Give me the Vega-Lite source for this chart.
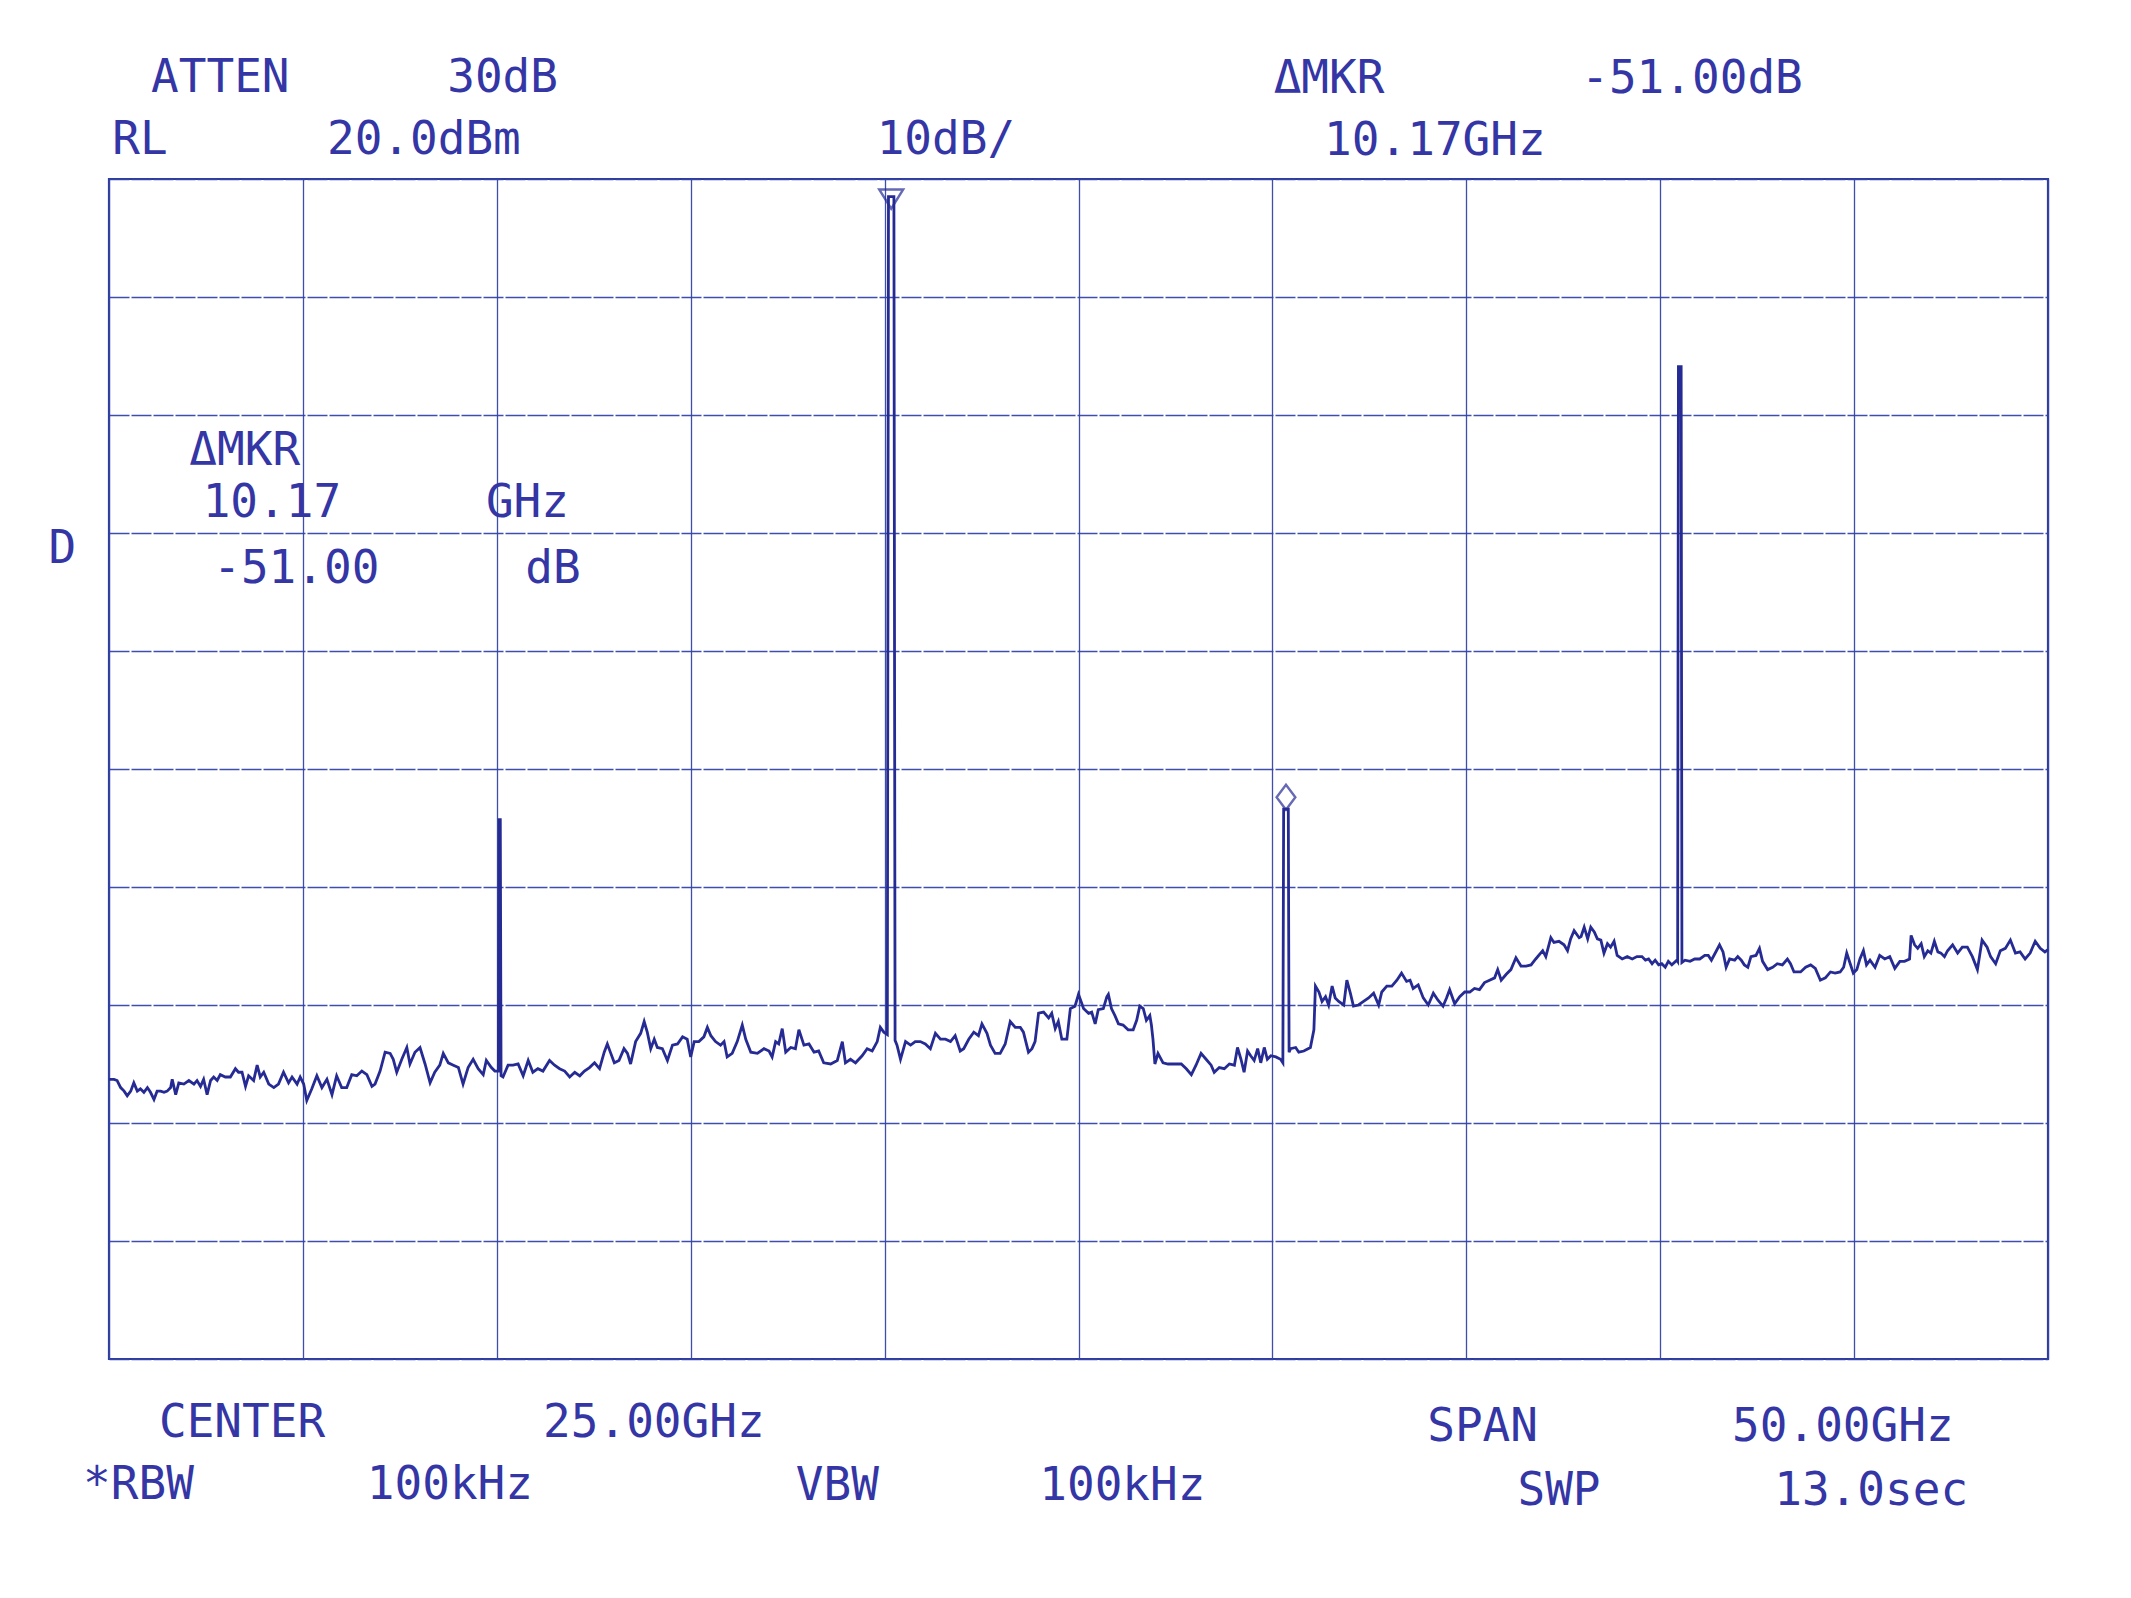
{
  "$schema": "https://vega.github.io/schema/vega-lite/v6.json",
  "width": 1939,
  "height": 1180,
  "autosize": {"type": "none"},
  "padding": {"left": 109, "top": 179, "right": 83, "bottom": 239},
  "background": "white",
  "config": {
    "view": {"stroke": "#2f3c9c", "strokeWidth": 2.2},
    "axis": {"labels": false, "ticks": false, "domain": false, "title": null, "grid": true, "gridColor": "#3444a6", "gridWidth": 1.3, "gridOpacity": 0.95},
    "axisY": {"gridDash": [20, 2]}
  },
  "datasets": {
    "trace": [
      {"f":0,"p":-56.3},{"f":0.13,"p":-56.3},{"f":0.21,"p":-56.4},{"f":0.30,"p":-57.0},{"f":0.39,"p":-57.3},{"f":0.47,"p":-57.7},{"f":0.56,"p":-57.3},{"f":0.64,"p":-56.6},{"f":0.73,"p":-57.3},{"f":0.81,"p":-57.1},{"f":0.90,"p":-57.4},{"f":0.99,"p":-57.0},{"f":1.07,"p":-57.4},{"f":1.16,"p":-58.0},{"f":1.24,"p":-57.3},{"f":1.33,"p":-57.3},{"f":1.42,"p":-57.4},{"f":1.50,"p":-57.3},{"f":1.59,"p":-57.0},{"f":1.63,"p":-56.3},{"f":1.72,"p":-57.6},{"f":1.80,"p":-56.6},{"f":1.93,"p":-56.7},{"f":2.06,"p":-56.4},{"f":2.19,"p":-56.7},{"f":2.27,"p":-56.4},{"f":2.36,"p":-56.9},{"f":2.44,"p":-56.3},{"f":2.53,"p":-57.6},{"f":2.62,"p":-56.4},{"f":2.70,"p":-56.1},{"f":2.79,"p":-56.4},{"f":2.87,"p":-55.9},{"f":3.00,"p":-56.1},{"f":3.13,"p":-56.1},{"f":3.26,"p":-55.4},{"f":3.34,"p":-55.7},{"f":3.43,"p":-55.7},{"f":3.52,"p":-56.9},{"f":3.60,"p":-56.0},{"f":3.73,"p":-56.4},{"f":3.82,"p":-55.1},{"f":3.90,"p":-56.1},{"f":3.99,"p":-55.7},{"f":4.12,"p":-56.7},{"f":4.25,"p":-57.0},{"f":4.37,"p":-56.7},{"f":4.50,"p":-55.7},{"f":4.63,"p":-56.6},{"f":4.72,"p":-56.1},{"f":4.85,"p":-56.7},{"f":4.93,"p":-56.1},{"f":5.02,"p":-56.7},{"f":5.10,"p":-58.1},{"f":5.23,"p":-57.1},{"f":5.36,"p":-56.0},{"f":5.49,"p":-57.0},{"f":5.62,"p":-56.3},{"f":5.75,"p":-57.6},{"f":5.87,"p":-56.0},{"f":6.00,"p":-57.0},{"f":6.13,"p":-57.0},{"f":6.26,"p":-55.9},{"f":6.39,"p":-56.0},{"f":6.52,"p":-55.6},{"f":6.65,"p":-55.9},{"f":6.78,"p":-56.9},{"f":6.86,"p":-56.7},{"f":6.99,"p":-55.6},{"f":7.12,"p":-54.0},{"f":7.25,"p":-54.1},{"f":7.33,"p":-54.6},{"f":7.42,"p":-55.7},{"f":7.55,"p":-54.6},{"f":7.68,"p":-53.6},{"f":7.76,"p":-55.0},{"f":7.89,"p":-54.0},{"f":8.02,"p":-53.6},{"f":8.15,"p":-55.0},{"f":8.28,"p":-56.6},{"f":8.40,"p":-55.7},{"f":8.53,"p":-55.1},{"f":8.62,"p":-54.1},{"f":8.75,"p":-54.9},{"f":8.88,"p":-55.1},{"f":9.01,"p":-55.3},{"f":9.13,"p":-56.7},{"f":9.26,"p":-55.3},{"f":9.39,"p":-54.6},{"f":9.52,"p":-55.4},{"f":9.65,"p":-55.9},{"f":9.73,"p":-54.7},{"f":9.86,"p":-55.3},{"f":9.95,"p":-55.6},{"f":10.04,"p":-55.6},{"f":10.06,"p":-34.3},{"f":10.09,"p":-34.3},{"f":10.11,"p":-56.0},{"f":10.16,"p":-56.1},{"f":10.29,"p":-55.1},{"f":10.42,"p":-55.1},{"f":10.55,"p":-55.0},{"f":10.68,"p":-56.0},{"f":10.81,"p":-54.7},{"f":10.93,"p":-55.7},{"f":11.06,"p":-55.4},{"f":11.19,"p":-55.6},{"f":11.36,"p":-54.7},{"f":11.49,"p":-55.1},{"f":11.62,"p":-55.4},{"f":11.75,"p":-55.6},{"f":11.88,"p":-56.1},{"f":12.01,"p":-55.7},{"f":12.14,"p":-56.0},{"f":12.26,"p":-55.6},{"f":12.39,"p":-55.3},{"f":12.52,"p":-54.9},{"f":12.65,"p":-55.4},
      {"f":12.77,"p":-54.0},{"f":12.85,"p":-53.3},{"f":12.94,"p":-54.1},{"f":13.03,"p":-54.9},{"f":13.15,"p":-54.7},{"f":13.28,"p":-53.7},{"f":13.37,"p":-54.1},{"f":13.45,"p":-55.0},{"f":13.58,"p":-53.1},{"f":13.71,"p":-52.4},{"f":13.80,"p":-51.4},{"f":13.88,"p":-52.3},{"f":13.97,"p":-53.7},{"f":14.06,"p":-52.9},{"f":14.14,"p":-53.6},{"f":14.27,"p":-53.7},{"f":14.40,"p":-54.7},{"f":14.53,"p":-53.4},{"f":14.66,"p":-53.3},{"f":14.79,"p":-52.7},{"f":14.91,"p":-52.9},{"f":15.00,"p":-54.4},{"f":15.09,"p":-53.1},{"f":15.21,"p":-53.1},{"f":15.34,"p":-52.7},{"f":15.43,"p":-51.9},{"f":15.52,"p":-52.6},{"f":15.64,"p":-53.1},{"f":15.77,"p":-53.4},{"f":15.86,"p":-53.1},{"f":15.94,"p":-54.4},{"f":16.07,"p":-54.1},{"f":16.20,"p":-53.1},{"f":16.33,"p":-51.7},{"f":16.42,"p":-52.9},{"f":16.55,"p":-54.0},{"f":16.72,"p":-54.1},{"f":16.89,"p":-53.7},{"f":17.02,"p":-53.9},{"f":17.10,"p":-54.4},{"f":17.19,"p":-53.1},{"f":17.27,"p":-53.3},{"f":17.36,"p":-52.0},{"f":17.45,"p":-54.0},{"f":17.58,"p":-53.6},{"f":17.70,"p":-53.7},{"f":17.79,"p":-52.1},{"f":17.92,"p":-53.4},{"f":18.05,"p":-53.3},{"f":18.18,"p":-54.0},{"f":18.30,"p":-53.9},{"f":18.43,"p":-54.9},{"f":18.61,"p":-55.0},{"f":18.78,"p":-54.7},{"f":18.91,"p":-53.1},{"f":18.99,"p":-54.9},{"f":19.12,"p":-54.6},{"f":19.25,"p":-54.9},{"f":19.42,"p":-54.3},{"f":19.55,"p":-53.7},{"f":19.68,"p":-53.9},{"f":19.81,"p":-53.1},{"f":19.89,"p":-51.9},{"f":19.98,"p":-52.3},{"f":20.07,"p":-52.5},{"f":20.10,"p":18.5},{"f":20.24,"p":18.5},{"f":20.27,"p":-53.0},{"f":20.32,"p":-53.4},{"f":20.41,"p":-54.6},{"f":20.54,"p":-53.1},{"f":20.67,"p":-53.4},{"f":20.79,"p":-53.1},{"f":20.92,"p":-53.1},{"f":21.05,"p":-53.3},{"f":21.18,"p":-53.7},{"f":21.31,"p":-52.4},{"f":21.44,"p":-52.9},{"f":21.57,"p":-52.9},{"f":21.70,"p":-53.1},{"f":21.82,"p":-52.6},{"f":21.95,"p":-53.9},{"f":22.04,"p":-53.7},{"f":22.17,"p":-52.9},{"f":22.30,"p":-52.3},{"f":22.42,"p":-52.6},{"f":22.51,"p":-51.6},{"f":22.64,"p":-52.4},{"f":22.73,"p":-53.4},{"f":22.85,"p":-54.1},{"f":22.98,"p":-54.1},{"f":23.11,"p":-53.3},{"f":23.24,"p":-51.4},{"f":23.37,"p":-51.9},{"f":23.50,"p":-51.9},{"f":23.58,"p":-52.3},{"f":23.71,"p":-54.0},{"f":23.80,"p":-53.7},{"f":23.88,"p":-53.1},{"f":23.97,"p":-50.7},{"f":24.10,"p":-50.6},{"f":24.23,"p":-51.1},{"f":24.31,"p":-50.7},{"f":24.40,"p":-52.0},{"f":24.48,"p":-51.4},{"f":24.57,"p":-52.9},{"f":24.70,"p":-52.9},{"f":24.79,"p":-50.3},{"f":24.91,"p":-50.1},{"f":25.00,"p":-49.1},{"f":25.13,"p":-50.3},{"f":25.26,"p":-50.7},
      {"f":25.34,"p":-50.6},{"f":25.43,"p":-51.6},{"f":25.51,"p":-50.4},{"f":25.64,"p":-50.3},{"f":25.73,"p":-49.3},{"f":25.77,"p":-49.1},{"f":25.85,"p":-50.3},{"f":25.94,"p":-50.9},{"f":26.03,"p":-51.6},{"f":26.15,"p":-51.7},{"f":26.28,"p":-52.1},{"f":26.41,"p":-52.1},{"f":26.50,"p":-51.3},{"f":26.58,"p":-50.1},{"f":26.67,"p":-50.3},{"f":26.75,"p":-51.3},{"f":26.84,"p":-50.9},{"f":26.88,"p":-51.7},{"f":26.92,"p":-52.9},{"f":26.97,"p":-55.0},{"f":27.05,"p":-54.1},{"f":27.18,"p":-54.9},{"f":27.31,"p":-55.0},{"f":27.48,"p":-55.0},{"f":27.65,"p":-55.0},{"f":27.78,"p":-55.4},{"f":27.91,"p":-55.9},{"f":28.03,"p":-55.1},{"f":28.16,"p":-54.1},{"f":28.29,"p":-54.6},{"f":28.42,"p":-55.1},{"f":28.50,"p":-55.7},{"f":28.63,"p":-55.3},{"f":28.76,"p":-55.4},{"f":28.89,"p":-55.0},{"f":29.02,"p":-55.1},{"f":29.10,"p":-53.6},{"f":29.19,"p":-54.6},{"f":29.27,"p":-55.7},{"f":29.36,"p":-53.9},{"f":29.44,"p":-54.3},{"f":29.53,"p":-54.7},{"f":29.62,"p":-53.7},{"f":29.70,"p":-54.9},{"f":29.79,"p":-53.6},{"f":29.87,"p":-54.6},{"f":29.96,"p":-54.3},{"f":30.09,"p":-54.4},{"f":30.21,"p":-54.6},{"f":30.27,"p":-54.9},{"f":30.29,"p":-33.4},{"f":30.41,"p":-33.4},{"f":30.43,"p":-54.0},{"f":30.47,"p":-53.7},{"f":30.60,"p":-53.6},{"f":30.68,"p":-54.0},{"f":30.81,"p":-53.9},{"f":30.98,"p":-53.6},{"f":31.07,"p":-52.1},{"f":31.11,"p":-48.4},{"f":31.20,"p":-48.9},{"f":31.28,"p":-49.7},{"f":31.37,"p":-49.3},{"f":31.45,"p":-50.0},{"f":31.54,"p":-48.4},{"f":31.62,"p":-49.4},{"f":31.71,"p":-49.7},{"f":31.84,"p":-50.0},{"f":31.92,"p":-47.9},{"f":32.01,"p":-49.0},{"f":32.09,"p":-50.1},{"f":32.22,"p":-50.0},{"f":32.35,"p":-49.7},{"f":32.48,"p":-49.4},{"f":32.61,"p":-49.0},{"f":32.74,"p":-50.0},{"f":32.82,"p":-48.9},{"f":32.95,"p":-48.4},{"f":33.08,"p":-48.4},{"f":33.21,"p":-47.9},{"f":33.33,"p":-47.3},{"f":33.46,"p":-48.0},{"f":33.55,"p":-47.9},{"f":33.63,"p":-48.6},{"f":33.76,"p":-48.3},{"f":33.89,"p":-49.4},{"f":34.02,"p":-50.0},{"f":34.15,"p":-49.0},{"f":34.27,"p":-49.6},{"f":34.40,"p":-50.1},{"f":34.49,"p":-49.4},{"f":34.57,"p":-48.7},{"f":34.70,"p":-49.9},{"f":34.83,"p":-49.3},{"f":34.96,"p":-48.9},{"f":35.09,"p":-48.9},{"f":35.21,"p":-48.6},{"f":35.34,"p":-48.7},{"f":35.47,"p":-48.1},{"f":35.60,"p":-47.9},{"f":35.73,"p":-47.7},{"f":35.81,"p":-47.0},{"f":35.90,"p":-47.9},{"f":36.03,"p":-47.4},{"f":36.15,"p":-47.0},{"f":36.28,"p":-46.0},{"f":36.41,"p":-46.7},{"f":36.54,"p":-46.7},{"f":36.67,"p":-46.6},{"f":36.79,"p":-46.1},{"f":36.97,"p":-45.4},{"f":37.05,"p":-45.9},{"f":37.18,"p":-44.3},{"f":37.26,"p":-44.7},{"f":37.39,"p":-44.6},{"f":37.52,"p":-44.9},{"f":37.61,"p":-45.4},{"f":37.69,"p":-44.4},{"f":37.78,"p":-43.7},{"f":37.91,"p":-44.3},
      {"f":37.96,"p":-44.2},{"f":38.04,"p":-43.4},{"f":38.13,"p":-44.4},{"f":38.21,"p":-43.4},{"f":38.30,"p":-43.8},{"f":38.38,"p":-44.4},{"f":38.47,"p":-44.5},{"f":38.55,"p":-45.6},{"f":38.64,"p":-44.8},{"f":38.72,"p":-45.1},{"f":38.81,"p":-44.6},{"f":38.89,"p":-45.8},{"f":39.02,"p":-46.1},{"f":39.15,"p":-45.9},{"f":39.28,"p":-46.1},{"f":39.40,"p":-45.9},{"f":39.53,"p":-45.9},{"f":39.62,"p":-46.2},{"f":39.70,"p":-46.1},{"f":39.79,"p":-46.5},{"f":39.87,"p":-46.2},{"f":39.96,"p":-46.6},{"f":40.04,"p":-46.5},{"f":40.13,"p":-46.8},{"f":40.21,"p":-46.3},{"f":40.30,"p":-46.6},{"f":40.43,"p":-46.2},{"f":40.45,"p":-46.3},{"f":40.47,"p":4.1},{"f":40.54,"p":4.1},{"f":40.56,"p":-46.4},{"f":40.64,"p":-46.2},{"f":40.77,"p":-46.3},{"f":40.89,"p":-46.1},{"f":41.02,"p":-46.1},{"f":41.15,"p":-45.8},{"f":41.24,"p":-45.8},{"f":41.32,"p":-46.2},{"f":41.45,"p":-45.4},{"f":41.53,"p":-44.9},{"f":41.62,"p":-45.5},{"f":41.70,"p":-46.8},{"f":41.79,"p":-46.1},{"f":41.92,"p":-46.2},{"f":42.00,"p":-45.9},{"f":42.09,"p":-46.2},{"f":42.17,"p":-46.6},{"f":42.26,"p":-46.8},{"f":42.34,"p":-45.9},{"f":42.47,"p":-45.8},{"f":42.56,"p":-45.2},{"f":42.64,"p":-46.3},{"f":42.77,"p":-47.0},{"f":42.90,"p":-46.8},{"f":43.02,"p":-46.5},{"f":43.15,"p":-46.6},{"f":43.28,"p":-46.1},{"f":43.36,"p":-46.5},{"f":43.45,"p":-47.2},{"f":43.62,"p":-47.2},{"f":43.75,"p":-46.8},{"f":43.88,"p":-46.6},{"f":44.00,"p":-46.9},{"f":44.13,"p":-47.9},{"f":44.26,"p":-47.7},{"f":44.39,"p":-47.2},{"f":44.51,"p":-47.3},{"f":44.64,"p":-47.2},{"f":44.73,"p":-46.8},{"f":44.81,"p":-45.6},{"f":44.90,"p":-46.5},{"f":44.98,"p":-47.3},{"f":45.07,"p":-47.0},{"f":45.15,"p":-46.1},{"f":45.24,"p":-45.4},{"f":45.32,"p":-46.6},{"f":45.41,"p":-46.2},{"f":45.54,"p":-46.8},{"f":45.66,"p":-45.8},{"f":45.79,"p":-46.1},{"f":45.92,"p":-45.9},{"f":46.05,"p":-46.9},{"f":46.18,"p":-46.3},{"f":46.30,"p":-46.3},{"f":46.43,"p":-46.1},{"f":46.47,"p":-44.1},{"f":46.56,"p":-44.9},{"f":46.64,"p":-45.2},{"f":46.73,"p":-44.8},{"f":46.81,"p":-45.9},{"f":46.90,"p":-45.4},{"f":46.98,"p":-45.6},{"f":47.07,"p":-44.6},{"f":47.16,"p":-45.5},{"f":47.24,"p":-45.6},{"f":47.33,"p":-45.9},{"f":47.41,"p":-45.4},{"f":47.54,"p":-44.9},{"f":47.67,"p":-45.6},{"f":47.79,"p":-45.1},{"f":47.92,"p":-45.1},{"f":48.05,"p":-45.9},{"f":48.18,"p":-47.0},{"f":48.30,"p":-44.5},{"f":48.43,"p":-45.1},{"f":48.52,"p":-45.9},{"f":48.65,"p":-46.5},{"f":48.77,"p":-45.4},{"f":48.90,"p":-45.2},{"f":49.03,"p":-44.5},{"f":49.16,"p":-45.6},{"f":49.28,"p":-45.5},{"f":49.41,"p":-46.1},{"f":49.54,"p":-45.6},{"f":49.67,"p":-44.6},{"f":49.80,"p":-45.2},{"f":49.92,"p":-45.5},{"f":50.0,"p":-45.3}
    ],
    "labels": [
      {"f":2.87,"p":28.6,"t":"ATTEN"},
      {"f":10.15,"p":28.6,"t":"30dB"},
      {"f":0.80,"p":23.3,"t":"RL"},
      {"f":8.12,"p":23.3,"t":"20.0dBm"},
      {"f":21.58,"p":23.3,"t":"10dB/"},
      {"f":31.46,"p":28.5,"t":"ΔMKR"},
      {"f":40.82,"p":28.5,"t":"-51.00dB"},
      {"f":34.19,"p":23.2,"t":"10.17GHz"},
      {"f":3.50,"p":-3.07,"t":"ΔMKR"},
      {"f":4.20,"p":-7.44,"t":"10.17"},
      {"f":10.79,"p":-7.44,"t":"GHz"},
      {"f":4.83,"p":-13.08,"t":"-51.00"},
      {"f":11.45,"p":-13.08,"t":"dB"},
      {"f":-1.20,"p":-11.36,"t":"D"},
      {"f":3.43,"p":-85.4,"t":"CENTER"},
      {"f":14.05,"p":-85.4,"t":"25.00GHz"},
      {"f":0.76,"p":-90.7,"t":"*RBW"},
      {"f":8.79,"p":-90.7,"t":"100kHz"},
      {"f":18.78,"p":-90.8,"t":"VBW"},
      {"f":26.13,"p":-90.8,"t":"100kHz"},
      {"f":35.42,"p":-85.8,"t":"SPAN"},
      {"f":44.71,"p":-85.8,"t":"50.00GHz"},
      {"f":37.39,"p":-91.2,"t":"SWP"},
      {"f":45.44,"p":-91.2,"t":"13.0sec"}
    ]
  },
  "encoding": {
    "x": {"field": "f", "type": "quantitative",
          "scale": {"domain": [0, 50], "nice": false, "zero": false},
          "axis": {"values": [0,5,10,15,20,25,30,35,40,45,50]}},
    "y": {"field": "p", "type": "quantitative",
          "scale": {"domain": [-80, 20], "nice": false, "zero": false},
          "axis": {"values": [-80,-70,-60,-50,-40,-30,-20,-10,0,10,20]}}
  },
  "layer": [
    {
      "data": {"name": "trace"},
      "mark": {"type": "line", "color": "#262b94", "strokeWidth": 2.8, "strokeJoin": "miter"}
    },
    {
      "data": {"values": [{"f": 20.17, "p": 18.3}]},
      "mark": {"type": "point", "shape": "M-1,-0.8L1,-0.8L0,0.8Z", "size": 576, "filled": false, "stroke": "#262b94", "strokeWidth": 2.4}
    },
    {
      "data": {"values": [{"f": 30.35, "p": -32.4}]},
      "mark": {"type": "point", "shape": "M0,-1L0.75,0L0,1L-0.75,0Z", "size": 625, "filled": false, "stroke": "#262b94", "strokeWidth": 2.4}
    },
    {
      "data": {"name": "labels"},
      "mark": {"type": "text", "font": "DejaVu Sans Mono", "fontSize": 46, "color": "#3536a6", "align": "center", "baseline": "middle"},
      "encoding": {
        "text": {"field": "t", "type": "nominal"}
      }
    }
  ]
}
